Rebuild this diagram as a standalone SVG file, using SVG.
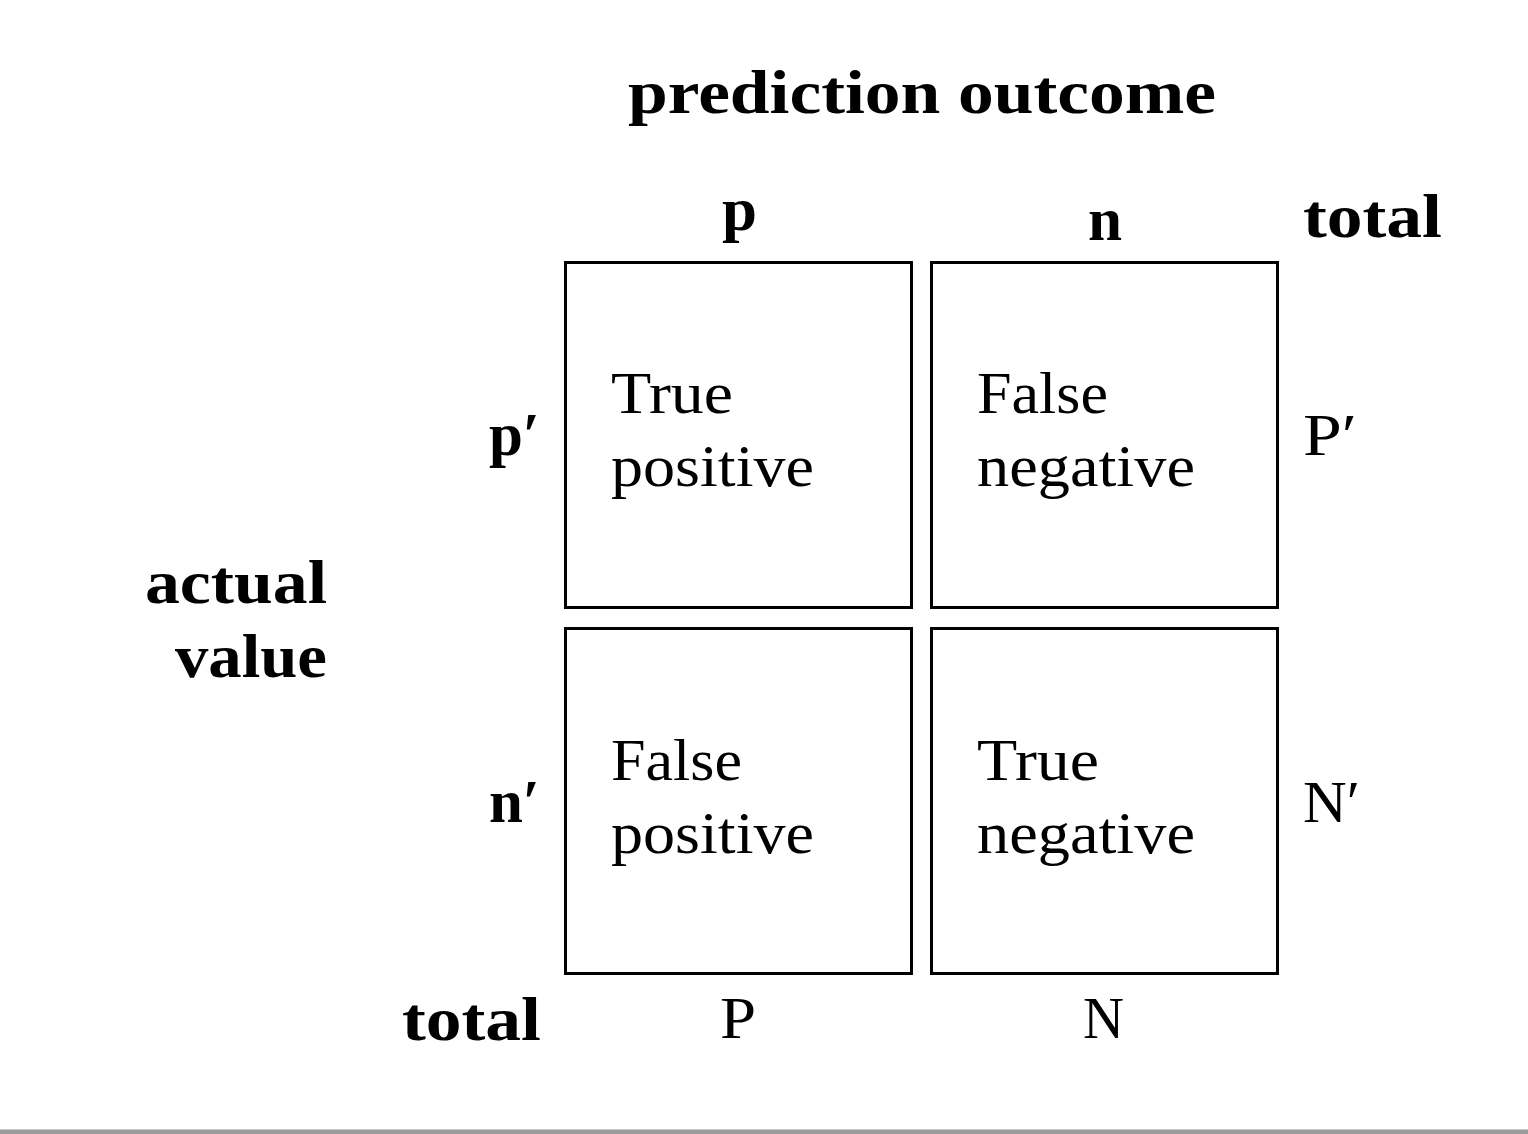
<svg xmlns="http://www.w3.org/2000/svg" width="1528" height="1134" viewBox="0 0 1528 1134">
<style>
.b{font-family:"Liberation Serif","DejaVu Serif",serif;font-weight:bold;font-size:62px;fill:#000}
.r{font-family:"Liberation Serif","DejaVu Serif",serif;font-size:60px;fill:#000}
.cell{fill:#fff;stroke:#000;stroke-width:3}
</style>
<rect width="1528" height="1134" fill="#fff"/>
<rect x="0" y="1129" width="1528" height="1" fill="#c8c8c8"/>
<rect x="0" y="1130" width="1528" height="4" fill="#9a9a9a"/>
<g id="headers">
<text class="b" x="628" y="113" textLength="588" lengthAdjust="spacingAndGlyphs">prediction outcome</text>
<text class="b" x="722" y="230" textLength="35" lengthAdjust="spacingAndGlyphs">p</text>
<text class="b" x="1088" y="240" textLength="34" lengthAdjust="spacingAndGlyphs">n</text>
<text class="b" x="1303" y="237" textLength="139" lengthAdjust="spacingAndGlyphs">total</text>
<text class="b" x="489" y="455" textLength="51" lengthAdjust="spacingAndGlyphs">p′</text>
<text class="b" x="489" y="822" textLength="51" lengthAdjust="spacingAndGlyphs">n′</text>
<text class="b" x="145" y="603" textLength="182" lengthAdjust="spacingAndGlyphs">actual</text>
<text class="b" x="175" y="677" textLength="152" lengthAdjust="spacingAndGlyphs">value</text>
<text class="b" x="402" y="1040" textLength="139" lengthAdjust="spacingAndGlyphs">total</text>
<text class="r" x="720" y="1038" textLength="36" lengthAdjust="spacingAndGlyphs">P</text>
<text class="r" x="1083" y="1038" textLength="41" lengthAdjust="spacingAndGlyphs">N</text>
<text class="r" x="1303" y="455" textLength="54" lengthAdjust="spacingAndGlyphs">P′</text>
<text class="r" x="1303" y="822" textLength="57" lengthAdjust="spacingAndGlyphs">N′</text>
</g>
<g id="tp">
<rect class="cell" x="565.5" y="262.5" width="346" height="345"/>
<text class="r" x="611" y="413" textLength="122" lengthAdjust="spacingAndGlyphs">True</text>
<text class="r" x="611" y="486" textLength="203" lengthAdjust="spacingAndGlyphs">positive</text>
</g>
<g id="fn">
<rect class="cell" x="931.5" y="262.5" width="346" height="345"/>
<text class="r" x="977" y="413" textLength="131" lengthAdjust="spacingAndGlyphs">False</text>
<text class="r" x="977" y="486" textLength="218" lengthAdjust="spacingAndGlyphs">negative</text>
</g>
<g id="fp">
<rect class="cell" x="565.5" y="628.5" width="346" height="345"/>
<text class="r" x="611" y="780" textLength="131" lengthAdjust="spacingAndGlyphs">False</text>
<text class="r" x="611" y="853" textLength="203" lengthAdjust="spacingAndGlyphs">positive</text>
</g>
<g id="tn">
<rect class="cell" x="931.5" y="628.5" width="346" height="345"/>
<text class="r" x="977" y="780" textLength="122" lengthAdjust="spacingAndGlyphs">True</text>
<text class="r" x="977" y="853" textLength="218" lengthAdjust="spacingAndGlyphs">negative</text>
</g>
<g id="connectors"></g>
</svg>
